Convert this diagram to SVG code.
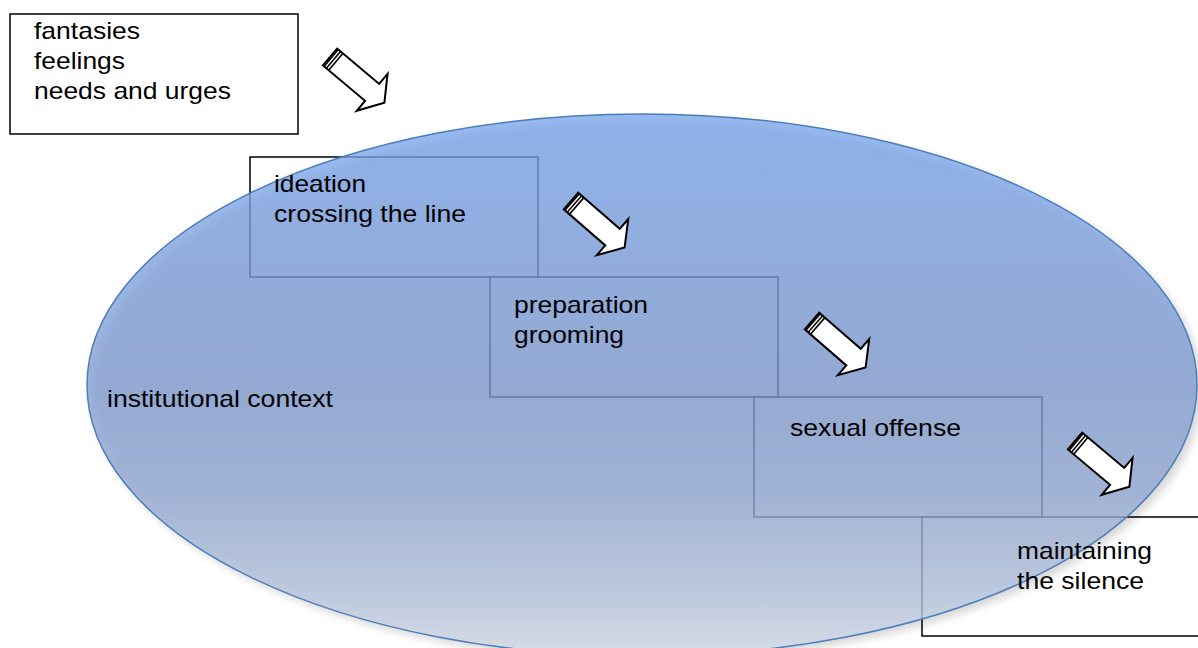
<svg xmlns="http://www.w3.org/2000/svg" width="1198" height="648" viewBox="0 0 1198 648">
<style>
.box{fill:#ffffff;stroke:#000000;stroke-width:1.5}
.t{font-family:"Liberation Sans",Arial,sans-serif;font-size:24px;fill:#000000}
.arr{fill:#ffffff;stroke:#000000;stroke-width:2;stroke-linejoin:miter}
.stripe{stroke:#000000;stroke-width:1.6}
</style>
<defs>
<linearGradient id="g" x1="0" y1="0" x2="0" y2="1">
<stop offset="0" stop-color="#79a6ee"/>
<stop offset="0.5" stop-color="#809cd2"/>
<stop offset="0.7" stop-color="#91a8d4"/>
<stop offset="0.9" stop-color="#b8c7e1"/>
<stop offset="1" stop-color="#d8dfeb"/>
</linearGradient>
<filter id="sh" x="-10%" y="-10%" width="120%" height="120%">
<feGaussianBlur stdDeviation="4"/>
</filter>
<g id="arrow">
<path class="arr" d="M0,-11 L55,-11 L55,-24 L71,0 L55,24 L55,11 L0,11 Z"/>
<line class="stripe" x1="1.5" y1="-11" x2="1.5" y2="11"/>
<line class="stripe" x1="4.5" y1="-11" x2="4.5" y2="11"/>
<line class="stripe" x1="7.5" y1="-11" x2="7.5" y2="11"/>
</g>
</defs>
<rect width="1198" height="648" fill="#ffffff"/>
<g id="box-fantasies"><rect class="box" x="10" y="14" width="288" height="120"/></g>
<g id="box-ideation"><rect class="box" x="250" y="157" width="288" height="120"/></g>
<g id="box-preparation"><rect class="box" x="490" y="277" width="288" height="120"/></g>
<g id="box-offense"><rect class="box" x="754" y="397" width="288" height="120"/></g>
<g id="box-silence"><rect class="box" x="922" y="517" width="290" height="119"/></g>
<g id="context">
<ellipse cx="647" cy="390" rx="555" ry="271" fill="#000" opacity="0.16" filter="url(#sh)"/>
<ellipse cx="642" cy="385" rx="555" ry="271" fill="url(#g)" fill-opacity="0.77" stroke="#4a7ebb" stroke-width="1.5"/>
<text class="t" x="107" y="407" textLength="226" lengthAdjust="spacingAndGlyphs">institutional context</text>
</g>
<g id="labels">
<text class="t" x="34" y="39" textLength="106" lengthAdjust="spacingAndGlyphs">fantasies</text>
<text class="t" x="34" y="69" textLength="91" lengthAdjust="spacingAndGlyphs">feelings</text>
<text class="t" x="34" y="99" textLength="197" lengthAdjust="spacingAndGlyphs">needs and urges</text>
<text class="t" x="274" y="192" textLength="92" lengthAdjust="spacingAndGlyphs">ideation</text>
<text class="t" x="274" y="222" textLength="192" lengthAdjust="spacingAndGlyphs">crossing the line</text>
<text class="t" x="514" y="313" textLength="134" lengthAdjust="spacingAndGlyphs">preparation</text>
<text class="t" x="514" y="343" textLength="110" lengthAdjust="spacingAndGlyphs">grooming</text>
<text class="t" x="790" y="436" textLength="171" lengthAdjust="spacingAndGlyphs">sexual offense</text>
<text class="t" x="1017" y="559" textLength="135" lengthAdjust="spacingAndGlyphs">maintaining</text>
<text class="t" x="1017" y="589" textLength="127" lengthAdjust="spacingAndGlyphs">the silence</text>
</g>
<g id="connectors">
<use href="#arrow" transform="translate(330,57) rotate(40)"/>
<use href="#arrow" transform="translate(571,201) rotate(41)"/>
<use href="#arrow" transform="translate(812,321) rotate(41)"/>
<use href="#arrow" transform="translate(1075,441) rotate(40)"/>
</g>
</svg>
